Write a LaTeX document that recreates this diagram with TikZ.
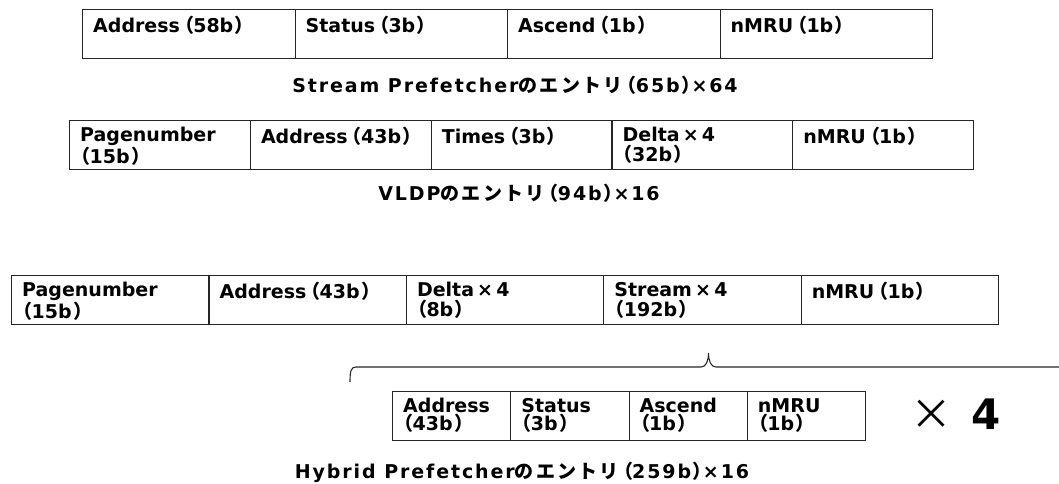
\documentclass[tikz,border=0pt]{standalone}
\usepackage{fontspec}
\setmainfont{DejaVu Sans}
\newfontfamily\jp{Noto Sans CJK JP}
\newfontfamily\jpsp{Noto Sans CJK JP}[LetterSpace=12]
\newfontfamily\jpp{Noto Sans CJK JP}[RawFeature=+palt]
% half-width brackets, with a little air where they follow a word
\newcommand\lpn{{\jpp（}}
\newcommand\lp{\hspace{0.2em}\lpn}
\newcommand\rp{\hspace{0.12em}{\jpp）}}
\usetikzlibrary{positioning}
\colorlet{rule}{black!85}
\tikzset{
  cell/.style={draw=rule, line width=1.1pt, minimum height=49pt, inner sep=0pt, anchor=north west},
  celltext/.style={anchor=north west, inner sep=0pt, align=left, xshift=11pt, yshift=-7pt,
    font=\fontsize{19}{20}\selectfont\bfseries, execute at begin node=\strut},
  caption/.style={anchor=base, inner sep=0pt,
    font=\fontsize{19}{20}\selectfont\bfseries\addfontfeature{LetterSpace=10}},
}

\begin{document}
\begin{tikzpicture}[x=1pt, y=-1pt]
    \useasboundingbox (0,0) rectangle (1059,484);

    % Stream prefetcher entry
    \foreach \txt [count=\i] in {Address\lp 58b\rp, Status\lp 3b\rp, Ascend\lp 1b\rp, nMRU\lp 1b\rp}{
      \node[cell, minimum width=212.5pt] (sp\i) at ({82+(\i-1)*212.5}, 9) {};
      \node[celltext] (spt\i) at (sp\i.north west) {\txt};
    }
    \node[caption] (spcap) at (515, 93) {Stream Prefetcher{\jpsp のエントリ}\lp 65b\rp×64};

    % VLDP entry
    \foreach \txt [count=\i] in {{Pagenumber\\\lpn 15b\rp}, Address\lp 43b\rp, Times\lp 3b\rp, {Delta\,×\,4\\\lpn 32b\rp}, nMRU\lp 1b\rp}{
      \node[cell, minimum width=180.8pt] (vl\i) at ({69+(\i-1)*180.8}, 120) {};
      \node[celltext] (vlt\i) at (vl\i.north west) {\txt};
    }
    \node[caption] (vlcap) at (519, 200) {VLDP{\jpsp のエントリ}\lp 94b\rp×16};

    % Hybrid prefetcher entry
    \foreach \txt [count=\i] in {{Pagenumber\\\lpn 15b\rp}, Address\lp 43b\rp, {Delta\,×\,4\\\lpn 8b\rp}, {Stream\,×\,4\\\lpn 192b\rp}, nMRU\lp 1b\rp}{
      \node[cell, minimum width=197.4pt] (hy\i) at ({11+(\i-1)*197.4}, 275) {};
      \node[celltext] (hyt\i) at (hy\i.north west) {\txt};
    }

    % brace under the stream field
    \coordinate (brl) at (350, 382);
    \coordinate (brtip) at (708.5, 353);
    \coordinate (brr) at (1067, 382);
    \draw[rule, line width=1.1pt] (brl) .. controls +(0,-11) and +(-5,0) .. (356,367) -- (701,367)
      .. controls +(5,0) and +(0,8) .. (brtip) .. controls +(0,8) and +(-5,0) .. (716,367)
      -- (1061,367) .. controls +(5,0) and +(0,-11) .. (brr);

    % one stream sub-entry
    \foreach \txt [count=\i] in {{Address\\\lpn 43b\rp}, {Status\\\lpn 3b\rp}, {Ascend\\\lpn 1b\rp}, {nMRU\\\lpn 1b\rp}}{
      \node[cell, minimum width=118.25pt] (st\i) at ({392+(\i-1)*118.25}, 391) {};
      \node[celltext, font=\fontsize{19}{18}\selectfont\bfseries] (stt\i) at (st\i.north west) {\txt};
    }
    \node[inner sep=0pt, font=\fontsize{42}{42}\selectfont] (mult) at (956, 414) {{\jp ×}\hspace{0.45em}\textbf{4}};

    \node[caption] (hycap) at (522, 478) {Hybrid Prefetcher{\jpsp のエントリ}\lp 259b\rp×16};
  \end{tikzpicture}
\end{document}
